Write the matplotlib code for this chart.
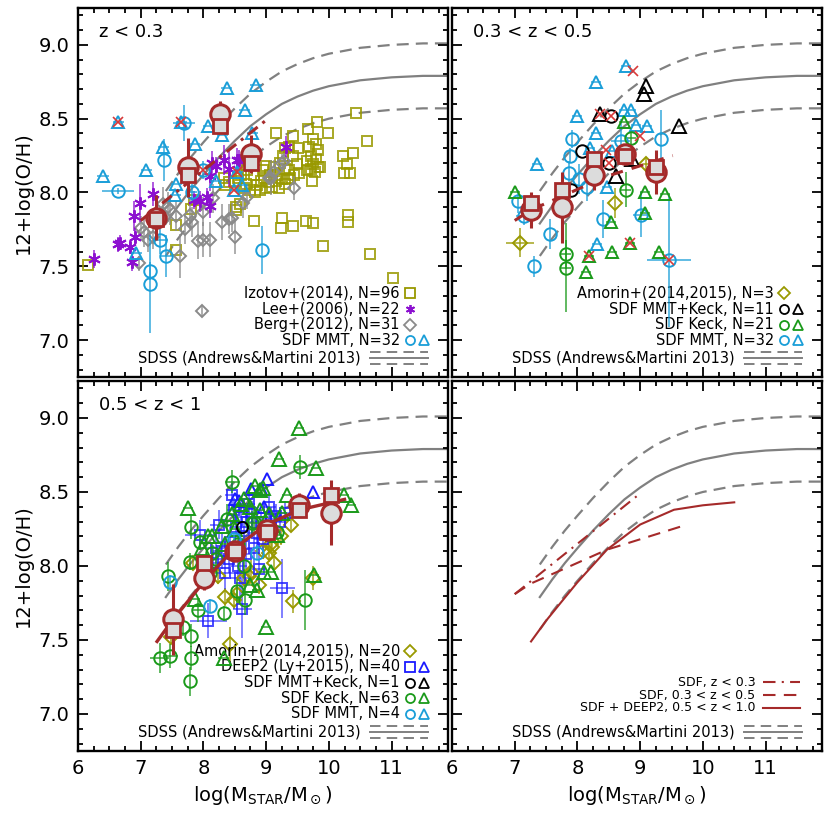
#!/usr/bin/env python3
"""Mass-metallicity relation in four redshift panels"""
import numpy as np
import matplotlib.pyplot as plt
from matplotlib.ticker import MultipleLocator, FormatStrFormatter

OLIVE = '#999900'
PURPLE = '#8c10d0'
GREY = '#8a8a8a'
CYAN = '#1a9ed8'
GREEN = '#1a9a1a'
BLUE = '#1a1aff'
BROWN = '#a52a2a'
XRED = '#d83a3a'
LINE = '#808080'

# SDSS relation (Andrews & Martini 2013)
sdss_x = [7.4, 7.6, 7.8, 8.0, 8.25, 8.5, 8.75, 9.0, 9.25, 9.5, 9.75, 10.0, 10.5, 11.0, 11.5, 11.9]
sdss_y = [7.79, 7.91, 8.02, 8.12, 8.24, 8.35, 8.45, 8.53, 8.60, 8.65, 8.69, 8.72, 8.76, 8.78, 8.79, 8.79]
sdss_dy = 0.22

# fitted relations
fit1_x = [7.0, 9.0]
fit1_y = [7.81, 8.49]
fit2_x = [7.0, 7.25, 7.73, 8.47, 9.75]
fit2_y = [7.81, 7.88, 7.97, 8.11, 8.28]
fit3_x = [7.26, 7.5, 7.73, 8.0, 8.47, 9.0, 9.54, 10.0, 10.5]
fit3_y = [7.49, 7.63, 7.75, 7.89, 8.11, 8.28, 8.38, 8.41, 8.43]
fit2b_x = [7.0, 7.25, 7.73, 8.47, 9.52]
fit2b_y = [7.81, 7.88, 7.97, 8.11, 8.25]
fit3b_x = [7.26, 7.5, 7.73, 8.0, 8.47, 9.0, 9.54, 10.25]
fit3b_y = [7.49, 7.63, 7.75, 7.89, 8.11, 8.28, 8.38, 8.45]

# ---- z < 0.3
izo_x = [6.16, 7.56, 7.56, 7.80, 7.85, 8.35, 8.32, 8.40, 8.50, 8.55, 8.52, 8.52, 8.81,
         8.70, 8.80, 8.92, 8.85, 8.75, 8.90, 8.82, 8.68, 9.00, 9.06, 8.95, 9.05, 8.97, 8.99,
         9.16, 9.30, 9.27, 9.22, 9.30, 9.18, 9.25, 9.15, 9.35, 9.30, 9.38, 9.12,
         9.43, 9.37, 9.50, 9.43, 9.49, 9.37, 9.53, 9.45,
         9.66, 9.81, 9.99, 9.75, 9.80, 9.68, 9.83, 9.71, 9.80, 9.65, 9.75, 9.83, 9.72, 9.86,
         9.78, 9.65, 9.73, 9.25, 9.23, 9.42, 9.64, 9.75,
         10.43, 10.61, 10.39, 10.23, 10.29, 10.24, 10.33, 10.31, 10.31, 9.90, 10.66, 11.03,
         8.60, 8.65, 9.10, 9.20, 8.58]
izo_y = [7.51, 7.78, 7.61, 7.89, 7.95, 8.05, 8.10, 8.07, 8.08, 8.10, 7.90, 7.88, 7.81,
         8.15, 8.12, 8.08, 8.05, 8.02, 8.02, 8.00, 8.06, 8.18, 8.12, 8.15, 8.07, 8.10, 8.03,
         8.40, 8.30, 8.25, 8.20, 8.16, 8.12, 8.09, 8.08, 8.09, 8.06, 8.10, 8.17,
         8.38, 8.31, 8.30, 8.25, 8.19, 8.15, 8.13, 8.12,
         8.43, 8.48, 8.40, 8.36, 8.33, 8.31, 8.29, 8.25, 8.23, 8.21, 8.19, 8.17, 8.16, 8.17,
         8.14, 8.15, 8.08, 7.83, 7.76, 7.77, 7.81, 7.79,
         8.54, 8.35, 8.27, 8.25, 8.19, 8.13, 8.13, 7.85, 7.80, 7.64, 7.58, 7.42,
         8.12, 8.03, 8.04, 8.03, 7.92]

lee_x = [6.26, 6.64, 6.67, 6.83, 6.86, 6.89, 6.91, 6.99, 7.20, 7.76, 7.85, 7.95, 8.05,
         8.10, 8.11, 8.14, 8.20, 8.33, 8.40, 8.53, 8.56, 9.31]
lee_y = [7.55, 7.65, 7.66, 7.63, 7.53, 7.84, 7.70, 7.93, 7.99, 8.09, 7.95, 7.94, 7.97,
         7.91, 8.11, 8.20, 8.18, 8.22, 8.16, 8.22, 8.22, 8.31]
lee_err = [0.06, 0.05, 0.05, 0.05, 0.06, 0.10, 0.06, 0.13, 0.08, 0.08, 0.06, 0.07, 0.06,
           0.08, 0.10, 0.08, 0.06, 0.10, 0.12, 0.08, 0.07, 0.07]

berg_x = [6.98, 7.00, 7.05, 7.12, 7.20, 7.36, 7.44, 7.47, 7.57, 7.63, 7.70, 7.79, 7.81,
          7.92, 7.98, 8.00, 8.00, 8.11, 8.15, 8.30, 8.40, 8.46, 8.51, 8.63, 8.70, 9.04,
          9.07, 9.12, 9.25, 9.29, 9.44]
berg_y = [7.52, 7.76, 7.73, 7.68, 7.70, 7.92, 7.90, 7.88, 7.84, 7.57, 7.75, 7.85, 7.80,
          7.67, 7.20, 7.87, 7.68, 7.68, 7.96, 7.80, 7.82, 7.83, 7.70, 7.93, 7.97, 8.10,
          8.10, 8.14, 8.20, 8.21, 8.03]
berg_err = [0.05, 0.08, 0.10, 0.08, 0.08, 0.12, 0.10, 0.10, 0.10, 0.15, 0.10, 0.10, 0.10,
            0.12, 0.04, 0.10, 0.12, 0.12, 0.10, 0.12, 0.10, 0.10, 0.12, 0.10, 0.08, 0.05,
            0.12, 0.08, 0.06, 0.06, 0.08]

mmt1_cx = [6.64, 7.14, 7.15, 7.31, 7.37, 7.41, 7.69, 7.82, 8.00, 8.94]
mmt1_cy = [8.01, 7.38, 7.47, 7.68, 8.22, 7.57, 8.47, 8.00, 8.15, 7.61]
mmt1_cxe = [0.25, 0.0, 0.0, 0.12, 0.0, 0.10, 0.18, 0.08, 0.0, 0.0]
mmt1_cye = [0.02, 0.33, 0.06, 0.10, 0.14, 0.14, 0.12, 0.06, 0.06, 0.16]
mmt1_tx = [6.40, 6.64, 7.09, 7.36, 7.65, 7.86, 8.08, 8.30, 8.37, 8.66, 8.84, 8.78, 6.93,
           7.55, 7.57, 8.54, 8.49, 8.62, 8.20]
mmt1_ty = [8.11, 8.48, 8.15, 8.31, 8.48, 8.33, 8.45, 8.39, 8.71, 8.56, 8.73, 8.40, 7.59,
           7.98, 8.06, 8.14, 8.02, 8.05, 8.08]
mmt1_xx = [6.64, 7.65, 8.00, 8.54, 8.49]
mmt1_xy = [8.48, 8.48, 8.15, 8.14, 8.02]

bin1_x = [7.25, 7.76, 8.26, 8.76]
bin1_c = [7.83, 8.17, 8.53, 8.26]
bin1_s = [7.82, 8.12, 8.45, 8.20]
bin1_e = [0.15, 0.20, 0.09, 0.13]

# ---- 0.3 < z < 0.5
mmt2_cx = [7.05, 7.14, 7.31, 7.57, 7.87, 7.88, 7.92, 8.02, 8.15, 8.40, 8.69, 9.01, 9.33, 9.46]
mmt2_cy = [7.94, 7.84, 7.50, 7.72, 8.13, 8.25, 8.36, 8.09, 8.04, 7.82, 8.35, 7.85, 8.36, 7.54]
mmt2_cxe = [0.0, 0.12, 0.0, 0.0, 0.0, 0.0, 0.0, 0.0, 0.0, 0.0, 0.15, 0.12, 0.0, 0.35]
mmt2_cye = [0.08, 0.06, 0.07, 0.10, 0.08, 0.05, 0.06, 0.10, 0.10, 0.13, 0.15, 0.15, 0.20, 0.45]
mmt2_tx = [8.77, 8.29, 8.00, 8.29, 7.36, 8.47, 8.31, 8.74, 8.85, 8.93, 9.11, 8.20, 8.55]
mmt2_ty = [8.86, 8.75, 8.52, 8.40, 8.19, 8.04, 7.65, 8.56, 8.56, 8.46, 8.45, 8.30, 8.28]
keck2_cx = [7.82, 7.82, 8.78, 8.85]
keck2_cy = [7.58, 7.49, 8.02, 8.37]
keck2_cye = [0.10, 0.30, 0.12, 0.05]
keck2_tx = [7.01, 8.53, 9.07, 9.40, 9.08, 8.14, 8.55, 8.84, 8.19, 9.30, 8.74]
keck2_ty = [8.00, 7.80, 8.00, 7.99, 7.86, 7.46, 7.60, 7.66, 7.57, 7.60, 8.48]
both2_cx = [8.53, 8.08, 8.50, 7.90]
both2_cy = [8.52, 8.28, 8.20, 8.02]
both2_tx = [8.36, 9.10, 9.06, 9.62, 8.62, 8.87]
both2_ty = [8.53, 8.72, 8.67, 8.45, 8.11, 8.23]
amo2_x = [7.08, 8.60, 9.10]
amo2_y = [7.66, 7.93, 8.19]
amo2_xe = [0.22, 0.0, 0.05]
amo2_ye = [0.10, 0.10, 0.05]
x2_x = [8.88, 8.53, 8.36, 8.45, 8.50, 9.00, 8.19, 8.84, 9.46]
x2_y = [8.82, 8.52, 8.53, 8.29, 8.20, 8.38, 7.57, 7.66, 7.54]

bin2_x = [7.26, 7.76, 8.26, 8.76, 9.26]
bin2_c = [7.88, 7.90, 8.12, 8.26, 8.14]
bin2_s = [7.93, 8.02, 8.23, 8.25, 8.17]
bin2_e = [0.12, 0.24, 0.10, 0.05, 0.15]

# ---- 0.5 < z < 1
keck3_cx = [9.54, 8.46, 7.80, 7.94, 7.79, 8.37, 8.77, 9.17, 7.43, 7.92, 8.32, 8.66, 8.53,
            9.62, 7.80, 7.80, 7.79, 7.47, 7.30, 7.67, 8.13, 8.65, 8.55, 9.00, 8.10, 8.20, 8.80]
keck3_cy = [8.67, 8.57, 8.26, 8.16, 8.03, 8.32, 8.29, 8.23, 7.93, 7.70, 7.68, 7.77, 7.83,
            7.77, 7.53, 7.38, 7.22, 7.39, 7.38, 7.59, 8.09, 8.00, 8.15, 8.22, 7.95, 8.05, 8.30]
keck3_cxe = [0.10, 0.12, 0.0, 0.0, 0.0, 0.0, 0.10, 0.0, 0.0, 0.10, 0.0, 0.0, 0.0,
             0.0, 0.0, 0.0, 0.0, 0.12, 0.15, 0.0, 0.0, 0.0, 0.0, 0.0, 0.0, 0.0, 0.0]
keck3_cye = [0.08, 0.08, 0.08, 0.05, 0.06, 0.10, 0.08, 0.05, 0.10, 0.08, 0.05, 0.10, 0.08,
             0.20, 0.08, 0.08, 0.10, 0.08, 0.10, 0.06, 0.06, 0.08, 0.06, 0.06, 0.06, 0.06, 0.08]
keck3_tx = [9.52, 9.20, 9.79, 7.75, 8.99, 9.76, 10.24, 10.35, 9.33, 8.90, 8.82, 8.95, 8.65,
            8.30, 8.08, 7.98, 8.35, 8.90, 9.05, 8.75, 9.17, 8.97, 8.75, 8.85, 9.07, 8.32,
            7.87, 8.14, 8.45, 9.25, 8.60, 8.50]
keck3_ty = [8.93, 8.72, 8.66, 8.39, 7.59, 7.94, 8.48, 8.41, 8.48, 8.51, 8.54, 8.53, 8.45,
            8.27, 8.20, 8.12, 8.15, 8.38, 8.35, 8.40, 8.21, 7.96, 7.87, 7.84, 7.96, 7.38,
            7.78, 8.20, 8.35, 8.36, 8.42, 8.25]
deep_sx = [9.26, 8.08, 8.62, 7.95, 8.43, 8.30, 8.52, 8.60, 8.70, 8.78, 8.85, 8.92, 9.00,
           9.08, 9.15, 9.22, 8.40, 8.55, 8.68, 8.80, 8.95, 8.35, 8.48, 8.25, 8.15, 8.72,
           9.05, 8.58, 8.88, 8.20, 9.30, 8.45, 8.65]
deep_sy = [7.85, 7.63, 7.71, 8.21, 8.16, 8.10, 8.26, 8.33, 8.30, 8.36, 8.22, 8.30, 8.27,
           8.32, 8.34, 8.30, 8.05, 8.00, 8.08, 8.12, 8.18, 7.95, 8.38, 8.28, 8.02, 8.42,
           8.40, 7.92, 7.98, 8.12, 8.36, 8.48, 8.20]
deep_sxe = [0.20, 0.30, 0.15, 0.25, 0.20, 0.15, 0.10, 0.15, 0.10, 0.10, 0.15, 0.10, 0.10,
            0.15, 0.10, 0.10, 0.20, 0.15, 0.10, 0.10, 0.15, 0.20, 0.10, 0.15, 0.20, 0.10,
            0.10, 0.15, 0.10, 0.15, 0.10, 0.10, 0.10]
deep_sye = [0.20, 0.12, 0.20, 0.10, 0.10, 0.12, 0.08, 0.08, 0.08, 0.08, 0.10, 0.08, 0.08,
            0.08, 0.08, 0.08, 0.10, 0.10, 0.10, 0.10, 0.10, 0.12, 0.08, 0.10, 0.12, 0.08,
            0.08, 0.12, 0.10, 0.10, 0.08, 0.08, 0.10]
deep_tx = [9.02, 9.75, 8.57, 8.92, 8.51, 8.76, 8.97]
deep_ty = [8.59, 8.50, 8.44, 8.52, 8.45, 8.52, 8.40]
amo3_x = [9.42, 9.74, 8.34, 8.48, 8.76, 8.88, 9.04, 9.10, 9.23, 9.39, 8.43, 8.95, 9.12,
          7.84, 7.48, 8.65, 8.53, 9.07, 8.24, 8.72]
amo3_y = [7.76, 7.92, 7.79, 7.77, 7.96, 7.87, 8.09, 8.13, 8.20, 8.28, 7.47, 8.10, 8.02,
          8.02, 7.52, 7.92, 7.81, 8.15, 7.93, 7.93]
amo3_ye = [0.08, 0.08, 0.06, 0.06, 0.08, 0.06, 0.06, 0.06, 0.06, 0.05, 0.12, 0.05, 0.06,
           0.04, 0.05, 0.06, 0.05, 0.06, 0.05, 0.06]
mmt3_x = [7.46, 8.11, 8.85, 8.48]
mmt3_y = [7.89, 7.73, 8.09, 8.18]
both3_x = [8.62]
both3_y = [8.26]

bin3_x = [7.52, 8.01, 8.51, 9.01, 9.52, 10.03]
bin3_c = [7.64, 7.92, 8.10, 8.24, 8.41, 8.36]
bin3_s = [7.57, 8.02, 8.10, 8.23, 8.38, 8.48]
bin3_e = [0.24, 0.08, 0.06, 0.06, 0.08, 0.22]

LEE_MARK = (6, 2, 0)


def pts(ax, x, y, marker, color, ms, xerr=None, yerr=None, z=3, alpha=1.0):
    if xerr is not None or yerr is not None:
        ax.errorbar(x, y, xerr=xerr, yerr=yerr, fmt='none', ecolor=color,
                    elinewidth=1.3, alpha=0.75 * alpha, zorder=z - 0.1)
    ax.plot(x, y, ls='none', marker=marker, ms=ms, mfc='none', mec=color,
            mew=1.4, alpha=alpha, zorder=z)


def bins(ax, x, c, s, e):
    ax.errorbar(x, c, yerr=e, fmt='none', ecolor=BROWN, elinewidth=2.2, zorder=8)
    ax.plot(x, c, ls='none', marker='o', ms=14, mfc='#dcdcdc', mec=BROWN, mew=2.2, zorder=9)
    ax.plot(x, s, ls='none', marker='s', ms=10, mfc='#dcdcdc', mec=BROWN, mew=2.0, zorder=10)


def sdss(ax, legend=True):
    y = np.array(sdss_y)
    dash = (0, (5.4, 3.2))
    ax.plot(sdss_x, y, color=LINE, lw=1.6, zorder=1)
    ax.plot(sdss_x, y + sdss_dy, color=LINE, lw=1.6, ls=dash, zorder=1)
    ax.plot(sdss_x, y - sdss_dy, color=LINE, lw=1.6, ls=dash, zorder=1)
    t = ax.transAxes
    ax.text(0.765, 0.052, 'SDSS (Andrews&Martini 2013)', transform=t, ha='right',
            va='center', fontsize=10.5)
    for yy, ls in [(0.068, dash), (0.052, '-'), (0.036, dash)]:
        ax.plot([0.79, 0.945], [yy, yy], transform=t, color=LINE, lw=1.4, ls=ls)


def legend(ax, rows):
    t = ax.transAxes
    for yy, text, marks in rows:
        ax.text(0.87, yy, text, transform=t, ha='right', va='center', fontsize=10.5)
        for k, (m, c) in enumerate(marks):
            ax.plot(0.898 + 0.037 * k, yy, transform=t, marker=m, ms=6.5, mfc='none',
                    mec=c, mew=1.3, clip_on=False)


def frame(ax, left, bottom):
    ax.set_xlim(6, 11.9)
    ax.set_ylim(6.75, 9.25)
    ax.xaxis.set_major_locator(MultipleLocator(1))
    ax.xaxis.set_minor_locator(MultipleLocator(0.25))
    ax.yaxis.set_major_locator(MultipleLocator(0.5))
    ax.yaxis.set_minor_locator(MultipleLocator(0.1))
    ax.yaxis.set_major_formatter(FormatStrFormatter('%.1f'))
    ax.tick_params(which='both', direction='in', top=True, right=True, width=1.3,
                   labelsize=14, labelleft=left, labelbottom=bottom, pad=6)
    ax.tick_params(which='major', length=7.5)
    ax.tick_params(which='minor', length=3.8)
    for s in ax.spines.values():
        s.set_linewidth(1.7)
    if left:
        ax.set_ylabel('12+log(O/H)', fontsize=14)
    if bottom:
        ax.set_xlabel(r'log(M$_{\rm STAR}$/M$_\odot$)', fontsize=14)


fig = plt.figure(figsize=(8.3, 8.3), dpi=100)
ax1 = fig.add_axes([0.094, 0.5458, 0.4458, 0.4446])
ax2 = fig.add_axes([0.5446, 0.5458, 0.4458, 0.4446])
ax3 = fig.add_axes([0.094, 0.0952, 0.4458, 0.4458])
ax4 = fig.add_axes([0.5446, 0.0952, 0.4458, 0.4458])

# panel 1
frame(ax1, True, False)
sdss(ax1)
pts(ax1, izo_x, izo_y, 's', OLIVE, 7, z=2, alpha=0.85)
pts(ax1, berg_x, berg_y, 'D', GREY, 6, yerr=berg_err, z=3)
pts(ax1, lee_x, lee_y, LEE_MARK, PURPLE, 9, yerr=lee_err, z=4)
pts(ax1, mmt1_cx, mmt1_cy, 'o', CYAN, 9, xerr=mmt1_cxe, yerr=mmt1_cye, z=5)
pts(ax1, mmt1_tx, mmt1_ty, '^', CYAN, 9, xerr=0.09, z=5)
ax1.plot(mmt1_xx, mmt1_xy, ls='none', marker='x', ms=7, mec=XRED, mew=1.2, zorder=6)
ax1.plot(fit1_x, fit1_y, color=BROWN, lw=2.2, ls=(0, (4, 2, 1, 2)), zorder=7)
bins(ax1, bin1_x, bin1_c, bin1_s, bin1_e)
ax1.text(0.057, 0.935, 'z < 0.3', transform=ax1.transAxes, fontsize=13, va='center')
legend(ax1, [(0.228, 'Izotov+(2014), N=96', [('s', OLIVE)]),
             (0.184, 'Lee+(2006), N=22', [(LEE_MARK, PURPLE)]),
             (0.142, 'Berg+(2012), N=31', [('D', GREY)]),
             (0.100, 'SDF MMT, N=32', [('o', CYAN), ('^', CYAN)])])

# panel 2
frame(ax2, False, False)
sdss(ax2)
pts(ax2, amo2_x, amo2_y, 'D', OLIVE, 7, xerr=amo2_xe, yerr=amo2_ye, z=3)
pts(ax2, mmt2_cx, mmt2_cy, 'o', CYAN, 9, xerr=mmt2_cxe, yerr=mmt2_cye, z=4)
pts(ax2, mmt2_tx, mmt2_ty, '^', CYAN, 9, xerr=0.08, z=4)
pts(ax2, keck2_cx, keck2_cy, 'o', GREEN, 9, xerr=0.08, yerr=keck2_cye, z=4)
pts(ax2, keck2_tx, keck2_ty, '^', GREEN, 9, xerr=0.08, z=4)
pts(ax2, both2_cx, both2_cy, 'o', 'black', 9, z=5)
pts(ax2, both2_tx, both2_ty, '^', 'black', 10, z=5)
ax2.plot(x2_x, x2_y, ls='none', marker='x', ms=7, mec=XRED, mew=1.2, zorder=6)
ax2.plot(fit2b_x, fit2b_y, color=BROWN, lw=2.2, ls=(0, (4, 3)), zorder=7)
bins(ax2, bin2_x, bin2_c, bin2_s, bin2_e)
ax2.text(0.057, 0.935, '0.3 < z < 0.5', transform=ax2.transAxes, fontsize=13, va='center')
legend(ax2, [(0.228, 'Amorin+(2014,2015), N=3', [('D', OLIVE)]),
             (0.184, 'SDF MMT+Keck, N=11', [('o', 'black'), ('^', 'black')]),
             (0.142, 'SDF Keck, N=21', [('o', GREEN), ('^', GREEN)]),
             (0.100, 'SDF MMT, N=32', [('o', CYAN), ('^', CYAN)])])

# panel 3
frame(ax3, True, True)
sdss(ax3)
pts(ax3, amo3_x, amo3_y, 'D', OLIVE, 7, yerr=amo3_ye, z=3)
pts(ax3, deep_sx, deep_sy, 's', BLUE, 7, xerr=deep_sxe, yerr=deep_sye, z=3, alpha=0.8)
pts(ax3, deep_tx, deep_ty, '^', BLUE, 8, z=3)
pts(ax3, keck3_cx, keck3_cy, 'o', GREEN, 9, xerr=keck3_cxe, yerr=keck3_cye, z=4)
pts(ax3, keck3_tx, keck3_ty, '^', GREEN, 10, xerr=0.08, z=4)
pts(ax3, mmt3_x, mmt3_y, 'o', CYAN, 9, yerr=0.05, z=5)
pts(ax3, both3_x, both3_y, 'o', 'black', 8, z=5)
ax3.plot(fit3b_x, fit3b_y, color=BROWN, lw=2.4, zorder=7)
bins(ax3, bin3_x, bin3_c, bin3_s, bin3_e)
ax3.text(0.057, 0.935, '0.5 < z < 1', transform=ax3.transAxes, fontsize=13, va='center')
legend(ax3, [(0.271, 'Amorin+(2014,2015), N=20', [('D', OLIVE)]),
             (0.228, 'DEEP2 (Ly+2015), N=40', [('s', BLUE), ('^', BLUE)]),
             (0.185, 'SDF MMT+Keck, N=1', [('o', 'black'), ('^', 'black')]),
             (0.143, 'SDF Keck, N=63', [('o', GREEN), ('^', GREEN)]),
             (0.101, 'SDF MMT, N=4', [('o', CYAN), ('^', CYAN)])])

# panel 4
frame(ax4, False, True)
sdss(ax4)
ax4.plot(fit1_x, fit1_y, color=BROWN, lw=1.5, ls=(0, (6, 3, 1, 3)))
ax4.plot(fit2_x, fit2_y, color=BROWN, lw=1.5, ls=(0, (6, 4)))
ax4.plot(fit3_x, fit3_y, color=BROWN, lw=1.5)
t4 = ax4.transAxes
for yy, text, ls in [(0.186, 'SDF, z < 0.3', (0, (6, 3, 1, 3))),
                     (0.151, 'SDF, 0.3 < z < 0.5', (0, (6, 4))),
                     (0.117, 'SDF + DEEP2, 0.5 < z < 1.0', '-')]:
    ax4.text(0.82, yy, text, transform=t4, ha='right', va='center', fontsize=9)
    ax4.plot([0.84, 0.94], [yy, yy], transform=t4, color=BROWN, lw=1.5, ls=ls)

fig.savefig('out.png', dpi=100)
